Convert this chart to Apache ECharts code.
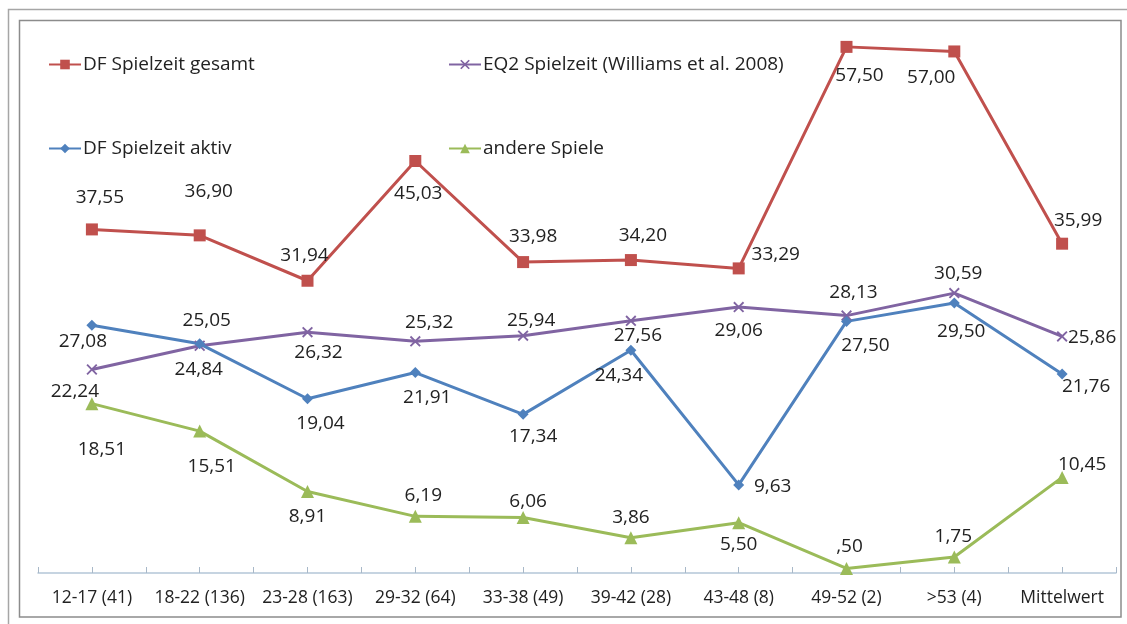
<!DOCTYPE html>
<html>
<head>
<meta charset="utf-8">
<script src="https://cdn.jsdelivr.net/npm/echarts@6/dist/echarts.min.js"></script>
<style>
html,body{margin:0;padding:0;background:#fff;}
#c{width:1127px;height:624px;}
</style>
</head>
<body>
<div id="c"></div>
<script>
const categories = ['12-17 (41)','18-22 (136)','23-28 (163)','29-32 (64)','33-38 (49)','39-42 (28)','43-48 (8)','49-52 (2)','>53 (4)','Mittelwert'];
const seriesNames = ['DF Spielzeit gesamt','EQ2 Spielzeit (Williams et al. 2008)','DF Spielzeit aktiv','andere Spiele'];
const gesamt = [37.55, 36.90, 31.94, 45.03, 33.98, 34.20, 33.29, 57.50, 57.00, 35.99];
const eq2    = [22.24, 24.84, 26.32, 25.32, 25.94, 27.56, 29.06, 28.13, 30.59, 25.86];
const aktiv  = [27.08, 25.05, 19.04, 21.91, 17.34, 24.34,  9.63, 27.50, 29.50, 21.76];
const andere = [18.51, 15.51,  8.91,  6.19,  6.06,  3.86,  5.50,  0.50,  1.75, 10.45];

// label placement (style only): pixel offsets of each value label from its point
const offGesamt = [[8,-32],[9,-44],[-3,-25],[3,33],[10,-25],[12,-24],[37,-14],[13,29],[-23,26],[16,-23]];
const offEq2    = [[-17,22],[-1,24],[11,20],[14,-19],[8,-15],[7,15],[0,23],[7,-23],[4,-20],[30,1]];
const offAktiv  = [[-9,16],[7,-23],[13,25],[12,25],[10,22],[-12,25],[34,2],[19,24],[7,29],[24,13]];
const offAndere = [[10,46],[12,36],[0,25],[8,-21],[5,-16],[0,-20],[0,22],[3,-22],[-1,-20],[20,-13]];

const colors = ['#c0504d','#8064a2','#4f81bd','#9bbb59'];
const FONT = '"Open Sans", "Noto Sans", sans-serif';

function fmt(v){
  let s = v.toFixed(2).replace('.', ',');
  if (v < 1) s = s.replace(/^0/, '');
  return s;
}
function build(vals, offs){
  return vals.map((v,i)=>({value:v, label:{offset:offs[i]}}));
}
const xSym = 'path://M0,1.2L1.2,0L5,3.8L8.8,0L10,1.2L6.2,5L10,8.8L8.8,10L5,6.2L1.2,10L0,8.8L3.8,5Z';

function mkSeries(name, vals, offs, color, symbol, size){
  return {
    name: name, type: 'line', xAxisIndex: 0, yAxisIndex: 0,
    data: build(vals, offs),
    symbol: symbol, symbolSize: size,
    lineStyle: {color: color, width: 3},
    itemStyle: {color: color},
    emphasis: {disabled: true},
    label: {
      show: true, position: 'inside', align: 'center', verticalAlign: 'middle',
      color: '#222', fontSize: 19, fontFamily: FONT,
      formatter: p => fmt(p.value)
    },
    z: 3
  };
}

const chart = echarts.init(document.getElementById('c'), null, {renderer: 'canvas'});
function legendAt(name, left, top){
  return {
    data: [name], left: left, top: top, orient: 'horizontal',
    itemWidth: 32, itemHeight: 12, itemGap: 4, selectedMode: false,
    textStyle: {fontSize: 19, color: '#222', fontFamily: FONT, padding: [0,0,0,-3]}
  };
}
chart.setOption({
  animation: false,
  backgroundColor: '#ffffff',
  color: colors,
  legend: [
    legendAt(seriesNames[0], 43, 50),
    legendAt(seriesNames[1], 443, 50),
    legendAt(seriesNames[2], 43, 134),
    legendAt(seriesNames[3], 443, 134)
  ],
  grid: {left: 38, right: 11, top: 24, bottom: 51, containLabel: false},
  xAxis: [
    {
      type: 'category', data: categories, boundaryGap: true, position: 'bottom',
      axisLine: {show: true, lineStyle: {color: '#b4c6d8', width: 1.5}},
      axisTick: {show: false},
      axisLabel: {color: '#222', fontSize: 17.5, fontFamily: FONT, margin: 16, interval: 0},
      splitLine: {show: false}
    },
    {
      type: 'value', min: 0, max: 20, interval: 1, position: 'bottom',
      axisLine: {show: false},
      axisTick: {show: true, inside: true, length: 6, lineStyle: {color: '#a8b8c8', width: 1}},
      axisLabel: {show: false},
      splitLine: {show: false}
    }
  ],
  yAxis: {type: 'value', min: 0, max: 60, show: false, splitLine: {show: false}},
  graphic: [
    {type: 'rect', shape: {x: 8.5, y: 9.5, width: 1130, height: 630}, style: {fill: null, stroke: '#a6a6a6', lineWidth: 1.5}, silent: true},
    {type: 'rect', shape: {x: 19.5, y: 20.5, width: 1101.5, height: 596.5}, style: {fill: null, stroke: '#8c8c8c', lineWidth: 1.5}, silent: true}
  ],
  series: [
    mkSeries(seriesNames[0], gesamt, offGesamt, colors[0], 'rect', 12),
    mkSeries(seriesNames[1], eq2, offEq2, colors[1], xSym, 11),
    mkSeries(seriesNames[2], aktiv, offAktiv, colors[2], 'diamond', 11),
    mkSeries(seriesNames[3], andere, offAndere, colors[3], 'triangle', 13)
  ]
});
</script>
</body>
</html>
